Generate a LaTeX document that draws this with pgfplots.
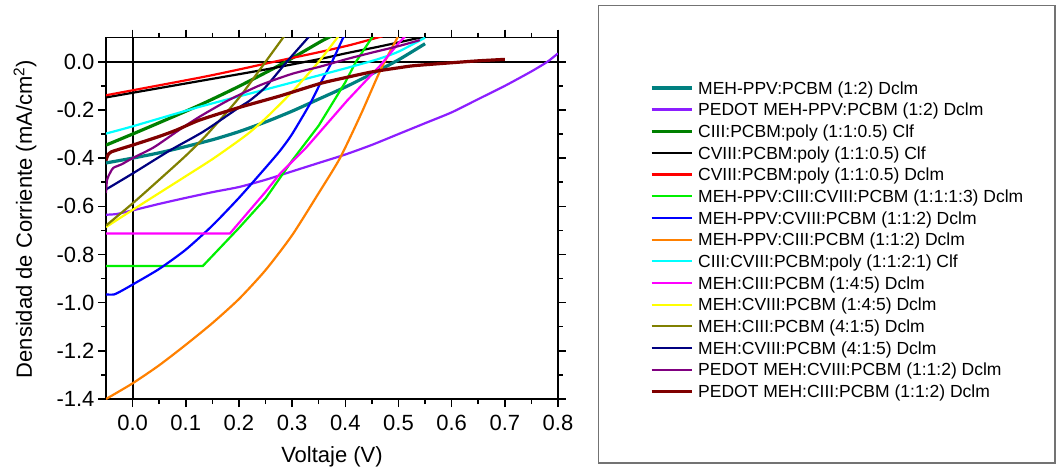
\documentclass[border=0pt]{standalone}
\usepackage{fontspec}
\setmainfont{Liberation Sans}
\usepackage{pgfplots}
\pgfplotsset{compat=1.18}
\definecolor{cteal}{RGB}{0,128,128}
\definecolor{cviolet}{RGB}{140,30,255}
\definecolor{cdgreen}{RGB}{0,128,0}
\definecolor{cred}{RGB}{255,0,0}
\definecolor{cbgreen}{RGB}{0,240,0}
\definecolor{cblue}{RGB}{0,0,255}
\definecolor{corange}{RGB}{255,128,0}
\definecolor{ccyan}{RGB}{0,255,255}
\definecolor{cmagenta}{RGB}{255,0,255}
\definecolor{cyellow}{RGB}{255,255,0}
\definecolor{colive}{RGB}{128,128,0}
\definecolor{cnavy}{RGB}{0,0,128}
\definecolor{cpurple}{RGB}{128,0,128}
\definecolor{cdred}{RGB}{128,0,0}
\begin{document}
\begin{tikzpicture}[x=1pt,y=1pt]
\path[use as bounding box] (0,0) rectangle (1057,474);
\draw[line width=1.5pt, color=black!55] (598.5,468.5) rectangle (1055,11);
\begin{axis}[
  at={(106pt,75pt)}, anchor=south west,
  scale only axis, width=452pt, height=361.3pt,
  xmin=-0.05, xmax=0.8, ymin=-1.4, ymax=0.1,
  xtick={0,0.1,0.2,0.3,0.4,0.5,0.6,0.7,0.8}, minor x tick num=1,
  ytick={-1.4,-1.2,-1.0,-0.8,-0.6,-0.4,-0.2,0}, minor y tick num=1,
  tick align=outside, major tick length=8pt, minor tick length=5pt,
  axis line style={line width=1.5pt},
  every tick/.style={black, line width=1.5pt},
  ticklabel style={font=\fontsize{22}{26}\selectfont},
  xticklabel style={yshift=-5pt},
  /pgf/number format/.cd, fixed, fixed zerofill, precision=1, assume math mode=true, /pgfplots/.cd,
  xlabel={Voltaje (V)},
  ylabel={Densidad de Corriente (mA/cm\textsuperscript{2})},
  label style={font=\fontsize{22}{26}\selectfont},
  xlabel style={at={(axis description cs:0.5,-0.1597)}, anchor=center},
  ylabel style={at={(axis description cs:-0.1792,0.498)}, anchor=center},
  every axis plot/.append style={no markers, line width=2.2pt},
  legend image code/.code={\draw[#1] (0pt,6.3pt) -- (40pt,6.3pt); \path (0pt,0pt);},
  legend style={at={(axis description cs:1.2035,0.8851)}, anchor=north west,
    draw=none, fill=none, inner sep=0pt, outer sep=0pt, row sep=0pt, column sep=5pt,
    nodes={inner sep=0pt, text height=15pt, text depth=6.67pt},
    cells={anchor=base west},
    font=\fontsize{17.5}{21}\selectfont},
]
\addplot[black, line width=2pt, forget plot] coordinates {(0,-1.4) (0,0.1)};
\addplot[black, line width=2pt, forget plot] coordinates {(-0.05,0) (0.8,0)};

\addplot[cteal, line width=3.2pt, smooth, tension=0.4] coordinates {(-0.05,-0.42) (0,-0.40) (0.05,-0.378) (0.1,-0.352) (0.153,-0.322) (0.2,-0.29) (0.25,-0.25) (0.3,-0.205) (0.353,-0.152) (0.4,-0.105) (0.45,-0.05) (0.5,0.008) (0.55,0.075)};
\addlegendentry{MEH-PPV:PCBM (1:2) Dclm}
\addplot[cviolet, smooth, tension=0.4] coordinates {(-0.05,-0.635) (-0.03,-0.632) (0,-0.617) (0.05,-0.59) (0.1,-0.565) (0.153,-0.54) (0.2,-0.52) (0.25,-0.49) (0.3,-0.455) (0.35,-0.42) (0.4,-0.385) (0.45,-0.345) (0.5,-0.30) (0.55,-0.255) (0.6,-0.21) (0.65,-0.155) (0.7,-0.10) (0.75,-0.04) (0.78,0.0) (0.8,0.035)};
\addlegendentry{PEDOT MEH-PPV:PCBM (1:2) Dclm}
\addplot[cdgreen, line width=3.2pt, smooth, tension=0.4] coordinates {(-0.05,-0.346) (0,-0.30) (0.05,-0.253) (0.126,-0.18) (0.2,-0.102) (0.28,-0.01) (0.353,0.083) (0.368,0.1) (0.375,0.11)};
\addlegendentry{CIII:PCBM:poly (1:1:0.5) Clf}
\addplot[black, smooth, tension=0.4] coordinates {(-0.05,-0.148) (0.126,-0.08) (0.25,-0.032) (0.353,0.012) (0.403,0.036) (0.47,0.066) (0.54,0.1) (0.55,0.105)};
\addlegendentry{CVIII:PCBM:poly (1:1:0.5) Clf}
\addplot[cred, smooth, tension=0.4] coordinates {(-0.05,-0.139) (0.126,-0.066) (0.2,-0.032) (0.266,0.0) (0.353,0.041) (0.41,0.07) (0.46,0.1) (0.47,0.106)};
\addlegendentry{CVIII:PCBM:poly (1:1:0.5) Dclm}
\addplot[cbgreen] coordinates {(-0.05,-0.848) (0.132,-0.848) (0.2,-0.69) (0.25,-0.568) (0.3,-0.41) (0.35,-0.265) (0.4,-0.085) (0.42,0.0) (0.45,0.1) (0.455,0.115)};
\addlegendentry{MEH-PPV:CIII:CVIII:PCBM (1:1:1:3) Dclm}
\addplot[cblue, smooth, tension=0.4] coordinates {(-0.05,-0.966) (-0.035,-0.966) (-0.02,-0.95) (0,-0.925) (0.05,-0.86) (0.1,-0.78) (0.15,-0.68) (0.2,-0.565) (0.25,-0.44) (0.277,-0.37) (0.3,-0.30) (0.334,-0.173) (0.353,-0.09) (0.375,0.0) (0.396,0.1) (0.4,0.115)};
\addlegendentry{MEH-PPV:CVIII:PCBM (1:1:2) Dclm}
\addplot[corange, smooth, tension=0.4] coordinates {(-0.05,-1.40) (0,-1.335) (0.05,-1.26) (0.1,-1.175) (0.15,-1.085) (0.2,-0.985) (0.25,-0.865) (0.3,-0.72) (0.35,-0.545) (0.39,-0.40) (0.43,-0.215) (0.466,-0.035) (0.498,0.1) (0.502,0.115)};
\addlegendentry{MEH-PPV:CIII:PCBM (1:1:2) Dclm}
\addplot[ccyan, smooth, tension=0.4] coordinates {(-0.05,-0.298) (0,-0.268) (0.126,-0.187) (0.25,-0.115) (0.353,-0.055) (0.404,-0.025) (0.46,0.01) (0.5,0.042) (0.55,0.1)};
\addlegendentry{CIII:CVIII:PCBM:poly (1:1:2:1) Clf}
\addplot[cmagenta] coordinates {(-0.05,-0.713) (0.183,-0.713) (0.25,-0.54) (0.277,-0.465) (0.325,-0.36) (0.35,-0.297) (0.404,-0.16) (0.466,-0.015) (0.5,0.077) (0.51,0.1) (0.515,0.112)};
\addlegendentry{MEH:CIII:PCBM (1:4:5) Dclm}
\addplot[cyellow, smooth, tension=0.4] coordinates {(-0.05,-0.686) (0,-0.615) (0.05,-0.545) (0.1,-0.475) (0.153,-0.40) (0.214,-0.304) (0.25,-0.235) (0.3,-0.125) (0.35,0.0) (0.385,0.1) (0.39,0.115)};
\addlegendentry{MEH:CVIII:PCBM (1:4:5) Dclm}
\addplot[colive, smooth, tension=0.4] coordinates {(-0.05,-0.68) (0,-0.588) (0.05,-0.49) (0.1,-0.39) (0.139,-0.304) (0.2,-0.15) (0.25,0.0) (0.283,0.1) (0.288,0.115)};
\addlegendentry{MEH:CIII:PCBM (4:1:5) Dclm}
\addplot[cnavy, smooth, tension=0.4] coordinates {(-0.05,-0.53) (0,-0.464) (0.071,-0.367) (0.133,-0.29) (0.2,-0.19) (0.221,-0.16) (0.25,-0.105) (0.29,0.0) (0.33,0.1) (0.336,0.115)};
\addlegendentry{MEH:CVIII:PCBM (4:1:5) Dclm}
\addplot[cpurple, smooth, tension=0.4] coordinates {(-0.05,-0.545) (-0.048,-0.49) (-0.042,-0.46) (-0.036,-0.44) (-0.02,-0.425) (0,-0.40) (0.04,-0.355) (0.087,-0.284) (0.126,-0.228) (0.18,-0.16) (0.24,-0.097) (0.3,-0.05) (0.353,-0.02) (0.404,0.012) (0.45,0.038) (0.5,0.065) (0.54,0.09)};
\addlegendentry{PEDOT MEH:CVIII:PCBM (1:1:2) Dclm}
\addplot[cdred, line width=3.2pt, smooth, tension=0.4] coordinates {(-0.05,-0.41) (-0.047,-0.39) (-0.04,-0.374) (0,-0.346) (0.05,-0.31) (0.083,-0.283) (0.126,-0.242) (0.2,-0.19) (0.277,-0.142) (0.353,-0.09) (0.404,-0.064) (0.45,-0.042) (0.5,-0.025) (0.53,-0.016) (0.6,-0.004) (0.65,0.004) (0.7,0.01)};
\addlegendentry{PEDOT MEH:CIII:PCBM (1:1:2) Dclm}
\end{axis}
\end{tikzpicture}
\end{document}
